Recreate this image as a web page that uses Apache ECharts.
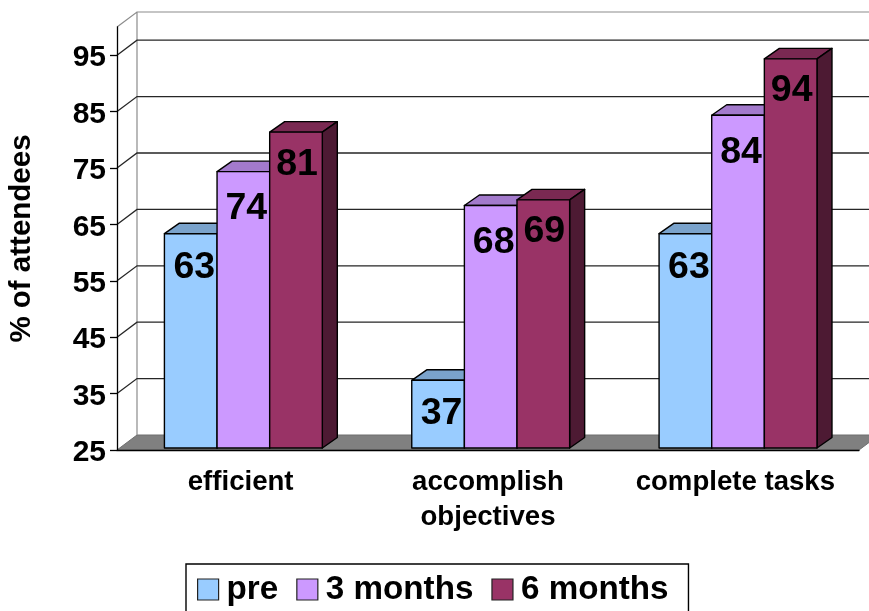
<!DOCTYPE html>
<html>
<head>
<meta charset="utf-8">
<title>% of attendees</title>
<style>html,body{margin:0;padding:0;background:#fff;overflow:hidden}#chart{width:869px;height:611px}</style>
<script src="https://cdn.jsdelivr.net/npm/echarts@6/dist/echarts.min.js"></script>
</head>
<body>
<div id="chart"></div>
<script>
// Survey results: share of attendees per outcome, before and after the course.
const categories = ['efficient', 'accomplish\nobjectives', 'complete tasks'];
const preValues = [63, 37, 63];
const threeMonthValues = [74, 68, 84];
const sixMonthValues = [81, 69, 94];
const yTicks = [25, 35, 45, 55, 65, 75, 85, 95];
const gridValues = [35, 45, 55, 65, 75, 85, 95];

const FONT = '"Liberation Sans", Arial, sans-serif';
// Oblique projection of the box: wall depth, bar depth and the bar's inset from the front.
const WALL_DX = 20, WALL_DY = -15;
const BAR_DX = 15, BAR_DY = -10.5;
const INSET_DX = 2.7, INSET_DY = -2;
const BAR_RATIO = 0.2128;
const EDGE = { stroke: '#000', lineWidth: 1.4, lineJoin: 'round' };

const chart = echarts.init(document.getElementById('chart'), null, { renderer: 'canvas' });

function renderFloor(params, api) {
  const c = params.coordSys;
  const x0 = c.x, x1 = c.x + c.width, y0 = c.y + c.height;
  return {
    type: 'polygon',
    shape: { points: [[x0, y0], [x1, y0], [x1 + WALL_DX, y0 + WALL_DY], [x0 + WALL_DX, y0 + WALL_DY]] },
    style: { fill: '#808080', stroke: '#6e6e6e', lineWidth: 1 }
  };
}

function renderWallFrame(params, api) {
  const c = params.coordSys;
  const x0 = c.x, x1 = c.x + c.width + WALL_DX, top = c.y, bottom = c.y + c.height;
  return {
    type: 'polyline',
    shape: { points: [
      [x0, top], [x0 + WALL_DX, top + WALL_DY], [x1, top + WALL_DY],
      [x0 + WALL_DX, top + WALL_DY], [x0 + WALL_DX, bottom + WALL_DY]
    ] },
    style: { fill: 'none', stroke: '#8c8c8c', lineWidth: 1.2 }
  };
}

function renderGridLine(params, api) {
  const c = params.coordSys;
  const y = api.coord([0, api.value(0)])[1];
  const x0 = c.x, x1 = c.x + c.width + WALL_DX;
  return {
    type: 'polyline',
    shape: { points: [[x0, y], [x0 + WALL_DX, y + WALL_DY], [x1, y + WALL_DY]] },
    style: { fill: 'none', stroke: '#262626', lineWidth: 1.3 }
  };
}

function makeBarRenderer(slot, front, top, side, labelDx, labelDy) {
  return function (params, api) {
    const c = params.coordSys;
    const center = api.coord([api.value(0), api.value(1)]);
    const w = api.size([1, 0])[0] * BAR_RATIO;
    const xl = center[0] + INSET_DX + (slot - 1.5) * w;
    const xr = xl + w;
    const yt = center[1] + INSET_DY;
    const yb = c.y + c.height + INSET_DY;
    return {
      type: 'group',
      children: [
        { type: 'polygon', shape: { points: [[xl, yt], [xr, yt], [xr + BAR_DX, yt + BAR_DY], [xl + BAR_DX, yt + BAR_DY]] },
          style: Object.assign({ fill: top }, EDGE) },
        { type: 'polygon', shape: { points: [[xr, yt], [xr + BAR_DX, yt + BAR_DY], [xr + BAR_DX, yb + BAR_DY], [xr, yb]] },
          style: Object.assign({ fill: side }, EDGE) },
        { type: 'rect', shape: { x: xl, y: yt, width: w, height: yb - yt },
          style: Object.assign({ fill: front }, EDGE) },
        { type: 'text', z2: 50,
          style: { x: xl + w / 2 + labelDx, y: yt + labelDy, text: String(api.value(1)), fill: '#000',
                   font: 'bold 37.5px ' + FONT, textAlign: 'center', textVerticalAlign: 'middle' } }
      ]
    };
  };
}

function toPairs(values) {
  return values.map((v, i) => [i, v]);
}

function barSeries(name, values, slot, front, top, side, labelDx, labelDy) {
  return {
    name, type: 'custom', z: 3,
    renderItem: makeBarRenderer(slot, front, top, side, labelDx, labelDy),
    encode: { x: 0, y: 1 },
    data: toPairs(values),
    itemStyle: { color: front },
    clip: false
  };
}

const option = {
  animation: false,
  backgroundColor: '#fff',
  textStyle: { fontFamily: FONT },
  grid: { left: 117, right: 10, top: 27, bottom: 161, containLabel: false, outerBoundsMode: 'none' },
  legend: {
    data: ['pre', '3 months', '6 months'],
    left: 186, top: 564, orient: 'horizontal',
    padding: [9, 20, 12, 11],
    itemGap: 18, itemWidth: 21, itemHeight: 21,
    icon: 'rect',
    selectedMode: false,
    borderColor: '#000', borderWidth: 1.4,
    itemStyle: { borderColor: '#222', borderWidth: 1.2 },
    textStyle: { fontFamily: FONT, fontWeight: 'bold', fontSize: 33.2, color: '#000', padding: [0, 0, 0, 3] }
  },
  xAxis: {
    type: 'category',
    data: categories,
    boundaryGap: true,
    axisLine: { lineStyle: { color: '#000', width: 1.3 } },
    axisTick: { alignWithLabel: false, length: 7, lineStyle: { color: '#000', width: 1.3 } },
    axisLabel: { margin: 15, color: '#000', fontFamily: FONT, fontWeight: 'bold', fontSize: 27.6, lineHeight: 35, interval: 0 }
  },
  yAxis: {
    type: 'value',
    min: 25, max: 100,
    name: '% of attendees',
    nameLocation: 'middle',
    nameGap: 80,
    nameTextStyle: { color: '#000', fontFamily: FONT, fontWeight: 'bold', fontSize: 29.5 },
    axisLine: { show: true, lineStyle: { color: '#000', width: 1.3 } },
    axisTick: { show: true, length: 7, customValues: yTicks, lineStyle: { color: '#000', width: 1.3 } },
    axisLabel: {
      margin: 11, customValues: yTicks,
      formatter: '{t|{value}}',
      rich: { t: { color: '#000', fontFamily: FONT, fontWeight: 'bold', fontSize: 30, padding: [6, 0, 0, 0] } }
    },
    splitLine: { show: false }
  },
  series: [
    { type: 'custom', name: 'floor', z: -2, renderItem: renderFloor, data: [[0]], encode: { y: 0 }, silent: true, clip: false },
    { type: 'custom', name: 'wall', z: -1, renderItem: renderWallFrame, data: [[0]], encode: { y: 0 }, silent: true, clip: false },
    { type: 'custom', name: 'grid', z: -1, renderItem: renderGridLine, data: gridValues.map(v => [v]), encode: { y: 0 }, silent: true, clip: false },
    barSeries('pre', preValues, 0, '#99CCFF', '#7AA3CC', '#4D6680', 3.5, 33.5),
    barSeries('3 months', threeMonthValues, 1, '#CC99FF', '#A37ACC', '#664D80', 3, 37),
    barSeries('6 months', sixMonthValues, 2, '#993366', '#7A2952', '#4D1A33', 1, 32)
  ]
};

chart.setOption(option);
</script>
</body>
</html>
